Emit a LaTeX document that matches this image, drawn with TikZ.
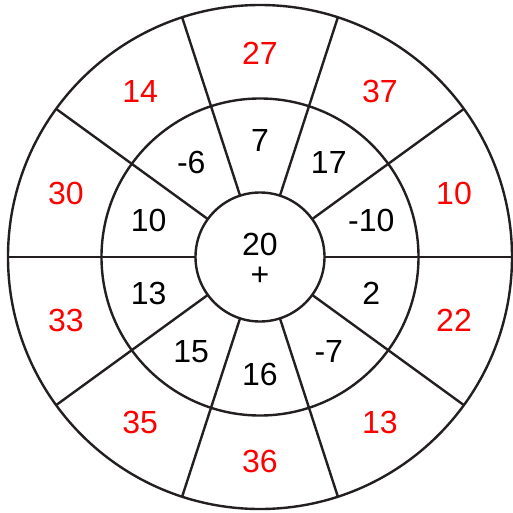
\documentclass[tikz,border=0pt]{standalone}
\usepackage{fontspec}
\setmainfont{Liberation Sans}
\definecolor{ink}{HTML}{231F20}
\begin{document}
\begin{tikzpicture}[x=1pt,y=1pt,
  ring/.style={draw=ink,line width=2.4pt},
  outerlbl/.style={text=red,font=\fontsize{32}{32}\selectfont,inner sep=0pt},
  innerlbl/.style={text=black,font=\fontsize{32}{32}\selectfont,inner sep=0pt}]
\useasboundingbox (-260,-255) rectangle (253,257);
\draw[ring] (0,0) circle (252);
\draw[ring] (0,0) circle (158.5);
\draw[ring] (0,0) circle (64.5);
\foreach \a in {0,36,...,324} {
  \draw[ring] (\a:64.5) -- (\a:252);
}
% outer labels
\node[outerlbl] (o1) at (90:204) {27};
\node[outerlbl] (o2) at (54:204) {37};
\node[outerlbl] (o3) at (18:204) {10};
\node[outerlbl] (o4) at (-18:204) {22};
\node[outerlbl] (o5) at (-54:204) {13};
\node[outerlbl] (o6) at (-90:204) {36};
\node[outerlbl] (o7) at (-126:204) {35};
\node[outerlbl] (o8) at (-162:204) {33};
\node[outerlbl] (o9) at (162:204) {30};
\node[outerlbl] (o10) at (126:204) {14};
% inner labels
\node[innerlbl] (i1) at (90:117) {7};
\node[innerlbl] (i2) at (54:117) {17};
\node[innerlbl] (i3) at (18:117) {-10};
\node[innerlbl] (i4) at (-18:117) {2};
\node[innerlbl] (i5) at (-54:117) {-7};
\node[innerlbl] (i6) at (-90:117) {16};
\node[innerlbl] (i7) at (-126:117) {15};
\node[innerlbl] (i8) at (-162:117) {13};
\node[innerlbl] (i9) at (162:117) {10};
\node[innerlbl] (i10) at (126:117) {-6};
% centre
\node[innerlbl,align=center,font=\fontsize{32}{30}\selectfont] (c) at (0,-2.5) {20\\+};
\end{tikzpicture}
\end{document}
